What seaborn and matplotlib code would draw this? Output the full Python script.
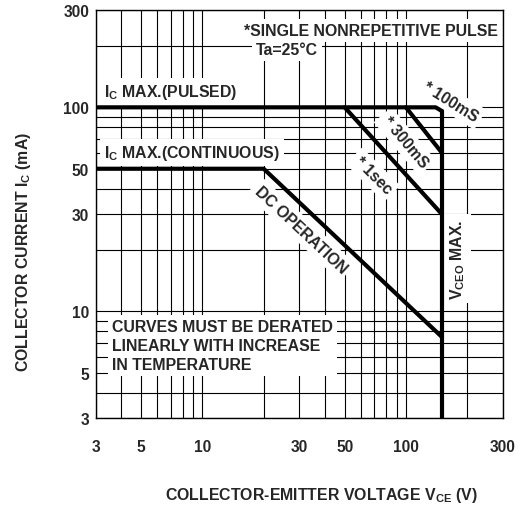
"""
Safe operating area : collector current vs collector-emitter voltage
(log-log, datasheet style)
"""

import numpy as np
import pandas as pd
import matplotlib
matplotlib.use("Agg")
import matplotlib.pyplot as plt
from matplotlib.ticker import LogLocator, NullFormatter, FixedLocator
import seaborn as sns

# ===========================================================
# Data
# ===========================================================

tick_values = [3, 5, 10, 30, 50, 100, 300]
tick_labels = ["3", "5", "10", "30", "50", "100", "300"]

# Ic max (pulsed) with the rounded corner into Vceo max
pulsed_v = [3, 140, 150]
pulsed_i = [100, 100, 96]

# Vceo max
vceo_v = [150, 150]
vceo_i = [96, 3]

# single pulse limits
ms100_v = [100, 150]
ms100_i = [100, 60]
ms300_v = [50, 150]
ms300_i = [100, 30]

# Ic max (continuous) + DC operation
dc_v = [3, 20, 150]
dc_i = [50, 50, 7.5]

curves = [
    ("pulsed", pulsed_v, pulsed_i),
    ("vceo", vceo_v, vceo_i),
    ("100ms", ms100_v, ms100_i),
    ("300ms", ms300_v, ms300_i),
    ("dc", dc_v, dc_i),
]

# ===========================================================
# Style
# ===========================================================

sns.set_style("white")
plt.rcParams["font.family"] = ["Liberation Sans", "DejaVu Sans"]
plt.rcParams["font.weight"] = "bold"
plt.rcParams["mathtext.fontset"] = "custom"
plt.rcParams["mathtext.rm"] = "Liberation Sans:bold"
plt.rcParams["mathtext.it"] = "Liberation Sans:bold"
plt.rcParams["mathtext.bf"] = "Liberation Sans:bold"

FS = 11.4

fig = plt.figure(figsize=(5.28, 5.06), dpi=100)
ax = fig.add_axes([96 / 528, 1 - 419 / 506, 407 / 528, 408 / 506])

# ===========================================================
# Curves
# ===========================================================

for name, v, i in curves:
    df = pd.DataFrame({"v": v, "i": i})
    sns.lineplot(data=df, x="v", y="i", ax=ax, color="black", lw=3,
                 sort=False, estimator=None, zorder=5,
                 solid_joinstyle="round")

ax.set_xscale("log")
ax.set_yscale("log")
ax.set_xlim(3, 300)
ax.set_ylim(3, 300)

ax.xaxis.set_major_locator(FixedLocator(tick_values))
ax.yaxis.set_major_locator(FixedLocator(tick_values))
ax.set_xticklabels(tick_labels)
ax.set_yticklabels(tick_labels)
ax.xaxis.set_minor_locator(LogLocator(base=10, subs=np.arange(2, 10)))
ax.yaxis.set_minor_locator(LogLocator(base=10, subs=np.arange(2, 10)))
ax.xaxis.set_minor_formatter(NullFormatter())
ax.yaxis.set_minor_formatter(NullFormatter())

ax.grid(which="both", color="black", lw=0.8)
ax.set_axisbelow(True)
ax.tick_params(which="both", length=0, labelsize=11.2)
ax.tick_params(axis="x", pad=15)
ax.tick_params(axis="y", pad=5)
for sp in ax.spines.values():
    sp.set_color("black")
    sp.set_linewidth(1)

ax.set_xlabel(r"COLLECTOR-EMITTER VOLTAGE V$_{\mathrm{CE}}$ (V)", fontsize=FS,
              fontweight="bold")
ax.set_ylabel(r"COLLECTOR CURRENT I$_{\mathrm{C}}$ (mA)", fontsize=FS,
              fontweight="bold")
ax.xaxis.set_label_coords(0.553, -0.165)
ax.yaxis.set_label_coords(-0.155, 0.41)

# ===========================================================
# Annotations (white boxes hide the grid like on the datasheet)
# ===========================================================

box = dict(facecolor="white", edgecolor="none", pad=3)

def note(x, y, s, rot=0, ha="center", va="center", **kw):
    ax.text(x, y, s, rotation=rot, ha=ha, va=va, fontsize=FS,
            fontweight="bold", bbox=box, zorder=4,
            rotation_mode="anchor", **kw)

note(16.0, 238, "*SINGLE NONREPETITIVE PULSE", ha="left")
note(18.4, 193, "Ta=25°C", ha="left")
note(3.3, 119, r"I$_{\mathrm{C}}$ MAX.(PULSED)", ha="left")
note(3.3, 60, r"I$_{\mathrm{C}}$ MAX.(CONTINUOUS)", ha="left")
note(30.5, 25.3, "DC OPERATION", rot=-43)
note(68.9, 46.7, "* 1sec", rot=-45)
note(99, 68, "* 300mS", rot=-50)
note(166, 107, "* 100mS", rot=-32)
note(180, 18.1, r"V$_{\mathrm{CEO}}$ MAX.", rot=90)
note(3.6, 6.8, "CURVES MUST BE DERATED\nLINEARLY WITH INCREASE\nIN TEMPERATURE",
     ha="left", linespacing=1.35)

fig.savefig("out.png", dpi=100)
